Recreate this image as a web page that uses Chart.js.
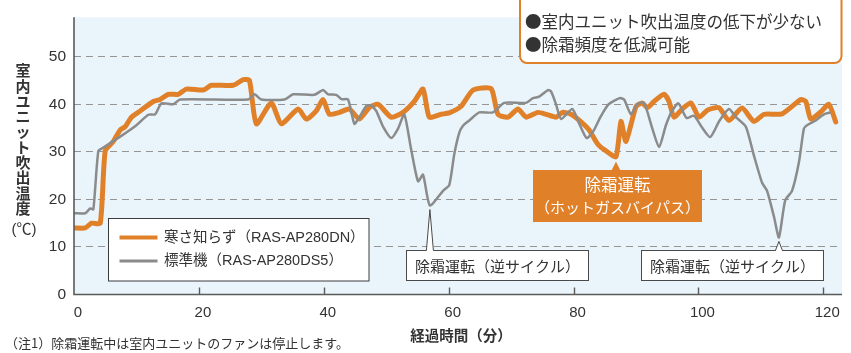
<!DOCTYPE html>
<html>
<head>
<meta charset="utf-8">
<script src="https://cdn.jsdelivr.net/npm/chart.js@4"></script>
<style>
  html, body { margin: 0; padding: 0; background: #ffffff; }
  #wrap { width: 851px; height: 353px; position: relative; }
</style>
</head>
<body>
<div id="wrap"><canvas id="c" width="851" height="353"></canvas></div>
<script>
// 寒さ知らず（RAS-AP280DN）: elapsed minutes / outlet temperature (℃)
const coldTimes = [0, 1.8, 2.8, 4.2, 5.0, 6.3, 7.4, 8.2, 9.2, 10.6, 12.7, 13.8, 15.1, 16.7, 18.0, 20.7, 22.0, 25.5, 27.1, 28.1,
  29.2, 31.6, 33.2, 35.9, 37.2, 38.8, 39.9, 40.9, 42.5, 44.1, 45.7, 47.3, 48.7, 50.8, 52.7, 54.5, 55.9, 56.9, 58.8, 60.1,
  62.0, 63.9, 66.8, 67.9, 69.5, 71.1, 72.4, 74.3, 75.6, 77.2, 78.2, 79.6, 81.2, 82.5, 83.9, 85.2, 86.8, 87.6, 88.4, 90.0,
  91.0, 91.8, 92.9, 94.5, 95.3, 96.1, 97.4, 98.8, 100.1, 101.5, 103.3, 104.9, 107.0, 108.9, 110.5, 113.4, 116.4, 117.2,
  118.0, 119.6, 120.9, 122.0];
const coldTemps = [14.0, 14.0, 15.0, 15.0, 30.2, 32.2, 34.6, 35.3, 37.3, 38.6, 40.6, 41.0, 42.1, 42.1, 43.2, 43.0, 44.0, 44.0, 45.2, 45.0,
  35.9, 40.3, 35.9, 39.0, 36.9, 38.6, 41.0, 37.9, 38.3, 39.0, 36.9, 39.3, 40.0, 37.3, 38.3, 40.6, 43.2, 37.3, 37.9, 38.2,
  39.6, 43.0, 43.3, 37.9, 37.3, 39.0, 37.3, 38.3, 37.9, 37.3, 38.3, 37.9, 36.3, 34.6, 31.6, 30.2, 29.0, 36.4, 32.2, 39.5,
  40.3, 39.3, 40.6, 42.1, 40.6, 37.3, 39.0, 40.3, 37.3, 38.8, 39.3, 36.6, 39.2, 36.4, 37.9, 38.0, 41.0, 40.6,
  36.9, 38.4, 40.0, 36.3];

// 標準機（RAS-AP280DS5）: elapsed minutes / outlet temperature (℃)
const stdTimes = [0, 1.8, 2.6, 3.1, 3.9, 4.7, 7.4, 10.0, 11.9, 13.0, 14.0, 15.9, 17.0, 27.9, 28.9, 30.0, 33.7, 35.1, 38.5, 39.9,
  40.7, 42.0, 42.8, 43.9, 44.9, 45.7, 46.8, 47.6, 48.4, 49.5, 50.8, 51.9, 52.9, 54.0, 55.1, 55.9, 57.0, 59.1, 60.1, 60.9,
  61.7, 62.3, 63.3, 64.9, 67.1, 68.9, 72.4, 73.5, 74.5, 75.9, 76.4, 77.2, 78.0, 79.8, 80.9, 82.1, 83.2, 84.3, 85.6, 87.4,
  88.1, 89.2, 90.2, 91.3, 92.6, 93.7, 94.8, 95.7, 96.8, 98.1, 99.3, 100.6, 101.9, 103.4, 104.9, 106.0, 107.6, 108.9,
  110.2, 111.0, 112.1, 112.9, 113.9, 115.0, 116.1, 116.9, 117.4, 118.8, 120.1, 121.2];
const stdTemps = [17.1, 17.1, 18.1, 17.9, 30.2, 30.9, 33.2, 35.6, 37.8, 37.9, 40.2, 40.0, 41.0, 41.0, 42.1, 41.0, 41.0, 42.1, 42.0, 43.0,
  42.1, 42.0, 41.1, 41.0, 35.9, 37.3, 39.6, 39.8, 38.6, 35.3, 32.9, 34.9, 37.9, 30.5, 23.8, 25.2, 18.7, 21.8, 23.0, 29.5,
  34.0, 35.5, 36.6, 38.3, 38.3, 40.3, 40.3, 41.3, 41.6, 43.0, 42.7, 40.0, 36.9, 39.0, 36.0, 32.9, 34.4, 37.3, 40.0, 41.3,
  41.0, 37.9, 40.0, 40.3, 35.0, 31.0, 35.6, 38.4, 40.2, 37.1, 37.6, 35.1, 33.1, 36.6, 39.0, 37.3, 35.3, 29.2,
  23.5, 21.8, 16.4, 12.0, 19.8, 21.8, 27.8, 34.9, 35.6, 36.6, 37.9, 38.3];

// Axis ticks
const xTickValues = [0, 20, 40, 60, 80, 100, 120];
const yTickValues = [0, 10, 20, 30, 40, 50];

// Texts
const coldLabel = '寒さ知らず（RAS-AP280DN）';
const stdLabel = '標準機（RAS-AP280DS5）';
const yTitleChars = ['室', '内', 'ユ', 'ニ', 'ッ', 'ト', '吹', '出', '温', '度'];
const yUnit = '(℃)';
const xTitle = '経過時間（分）';
const noteLines = ['●室内ユニット吹出温度の低下が少ない', '●除霜頻度を低減可能'];
const hotGasLines = ['除霜運転', '（ホットガスバイパス）'];
const reverseCycleLabel = '除霜運転（逆サイクル）';
const footnote = '（注1）除霜運転中は室内ユニットのファンは停止します。';

// Defrost events marked on the chart (minutes)
const reverseDefrostTimes = [57.0, 112.9];
const hotGasDefrostTime = 86.8;

const ORANGE = '#e0812a';
const GRAY = '#8b8b8b';
const TEXT = '#333333';
const AXIS = '#5a5a5a';
const PLOT_BG = '#e9f4fb';
const LATIN_JP = "'Liberation Sans', 'Noto Sans CJK JP', sans-serif";
const JP = "'Noto Sans CJK JP', sans-serif";

const toPoints = (xs, ys) => xs.map((x, i) => ({ x: x, y: ys[i] }));

function drawTail(ctx, tipX, tipY, baseY, half, fill, stroke) {
  ctx.beginPath();
  ctx.moveTo(tipX - half, baseY + 1.5);
  ctx.lineTo(tipX, tipY);
  ctx.lineTo(tipX + half, baseY + 1.5);
  ctx.closePath();
  ctx.fillStyle = fill;
  ctx.fill();
  if (stroke) {
    ctx.beginPath();
    ctx.moveTo(tipX - half, baseY + 0.5);
    ctx.lineTo(tipX, tipY);
    ctx.lineTo(tipX + half, baseY + 0.5);
    ctx.strokeStyle = stroke;
    ctx.lineWidth = 1;
    ctx.stroke();
  }
}

function grayCallout(ctx, l, t, r, b, tipX, tipY, text) {
  ctx.fillStyle = '#ffffff';
  ctx.fillRect(l, t, r - l, b - t);
  ctx.strokeStyle = '#4a4a4a';
  ctx.lineWidth = 1;
  ctx.strokeRect(l + 0.5, t + 0.5, r - l - 1, b - t - 1);
  drawTail(ctx, tipX, tipY, t, 3.5, '#ffffff', '#4a4a4a');
  ctx.fillStyle = TEXT;
  ctx.font = '15px ' + JP;
  ctx.textAlign = 'center';
  ctx.textBaseline = 'middle';
  ctx.fillText(text, (l + r) / 2, (t + b) / 2 + 0.5);
}

function roundRect(ctx, x, y, w, h, r) {
  ctx.beginPath();
  ctx.moveTo(x + r, y);
  ctx.lineTo(x + w - r, y);
  ctx.arcTo(x + w, y, x + w, y + r, r);
  ctx.lineTo(x + w, y + h - r);
  ctx.arcTo(x + w, y + h, x + w - r, y + h, r);
  ctx.lineTo(x + r, y + h);
  ctx.arcTo(x, y + h, x, y + h - r, r);
  ctx.lineTo(x, y + r);
  ctx.arcTo(x, y, x + r, y, r);
  ctx.closePath();
}

const decorations = {
  id: 'decorations',
  beforeDraw(chart) {
    const { ctx, chartArea: a } = chart;
    ctx.save();
    ctx.fillStyle = PLOT_BG;
    ctx.fillRect(a.left, a.top, a.right - a.left, a.bottom - a.top);
    ctx.restore();
  },
  afterDatasetsDraw(chart) {
    const { ctx, chartArea: a, scales: { x, y } } = chart;
    ctx.save();

    // axes
    ctx.strokeStyle = AXIS;
    ctx.lineWidth = 1.6;
    ctx.beginPath();
    ctx.moveTo(a.left, a.top);
    ctx.lineTo(a.left, a.bottom);
    ctx.lineTo(a.right, a.bottom);
    ctx.stroke();
    // inward tick marks on the time axis
    ctx.lineWidth = 1.4;
    xTickValues.forEach(v => {
      if (v === 0) return;
      const px = Math.round(x.getPixelForValue(v)) + 0.5;
      ctx.beginPath();
      ctx.moveTo(px, a.bottom);
      ctx.lineTo(px, a.bottom - 7);
      ctx.stroke();
    });

    // reverse-cycle defrost callouts on the standard unit
    const grayBoxes = [[406, 250, 589, 281], [641, 250, 824, 281]];
    reverseDefrostTimes.forEach((t, k) => {
      const i = stdTimes.indexOf(t);
      const tipX = x.getPixelForValue(stdTimes[i]);
      const tipY = y.getPixelForValue(stdTemps[i]) + 4;
      const [l, tp, r, b] = grayBoxes[k];
      grayCallout(ctx, l, tp, r, b, tipX, tipY, reverseCycleLabel);
    });

    // hot-gas bypass defrost callout on the cold-climate unit
    {
      const i = coldTimes.indexOf(hotGasDefrostTime);
      const tipX = x.getPixelForValue(coldTimes[i]);
      const tipY = y.getPixelForValue(coldTemps[i]) + 5;
      const l = 533, t = 170, r = 702, b = 222;
      ctx.fillStyle = ORANGE;
      ctx.fillRect(l, t, r - l, b - t);
      drawTail(ctx, tipX, tipY, t, 5, ORANGE, null);
      ctx.fillStyle = '#ffffff';
      ctx.textAlign = 'center';
      ctx.textBaseline = 'middle';
      ctx.font = '16.5px ' + JP;
      ctx.fillText(hotGasLines[0], (l + r) / 2, 185);
      ctx.font = '15px ' + JP;
      ctx.fillText(hotGasLines[1], (l + r) / 2, 207);
    }

    // legend
    {
      const l = 108.5, t = 218.5, r = 369, b = 281;
      ctx.fillStyle = '#ffffff';
      ctx.fillRect(l, t, r - l, b - t);
      ctx.strokeStyle = '#3c3c3c';
      ctx.lineWidth = 1;
      ctx.strokeRect(l, t, r - l, b - t);
      const rows = [[ORANGE, 4, coldLabel, 237.5], [GRAY, 3, stdLabel, 261]];
      rows.forEach(([col, w, label, cy]) => {
        ctx.strokeStyle = col;
        ctx.lineWidth = w;
        ctx.beginPath();
        ctx.moveTo(119.5, cy);
        ctx.lineTo(157.5, cy);
        ctx.stroke();
        ctx.fillStyle = TEXT;
        ctx.font = '14.5px ' + LATIN_JP;
        ctx.textAlign = 'left';
        ctx.textBaseline = 'middle';
        ctx.fillText(label, 164, cy);
      });
    }

    // summary note box
    {
      roundRect(ctx, 520, -12, 321.5, 75, 7);
      ctx.fillStyle = '#ffffff';
      ctx.fill();
      ctx.strokeStyle = ORANGE;
      ctx.lineWidth = 2;
      ctx.stroke();
      ctx.fillStyle = TEXT;
      ctx.font = '16.5px ' + JP;
      ctx.textAlign = 'left';
      ctx.textBaseline = 'middle';
      ctx.fillText(noteLines[0], 525, 21.5);
      ctx.fillText(noteLines[1], 525, 45);
    }

    ctx.restore();
  },
  afterDraw(chart) {
    const { ctx } = chart;
    ctx.save();
    ctx.fillStyle = TEXT;
    ctx.textAlign = 'center';
    ctx.textBaseline = 'middle';
    // vertical axis title
    ctx.font = 'bold 15px ' + JP;
    yTitleChars.forEach((ch, i) => ctx.fillText(ch, 23, 70.5 + i * 15.3));
    ctx.font = '15px ' + LATIN_JP;
    ctx.fillText(yUnit, 24, 230);
    // horizontal axis title
    ctx.font = 'bold 14.5px ' + JP;
    ctx.fillText(xTitle, 461, 335);
    // footnote
    ctx.font = '13px ' + JP;
    ctx.textAlign = 'left';
    ctx.fillText(footnote, 5, 343);
    ctx.restore();
  }
};

new Chart(document.getElementById('c'), {
  type: 'line',
  data: {
    datasets: [
      {
        label: stdLabel,
        data: toPoints(stdTimes, stdTemps),
        borderColor: GRAY,
        borderWidth: 2.5,
        pointRadius: 0,
        tension: 0.2,
        borderJoinStyle: 'round',
        order: 0
      },
      {
        label: coldLabel,
        data: toPoints(coldTimes, coldTemps),
        borderColor: ORANGE,
        borderWidth: 5,
        pointRadius: 0,
        tension: 0.2,
        borderJoinStyle: 'round',
        borderCapStyle: 'round',
        order: 1
      }
    ]
  },
  options: {
    responsive: false,
    animation: false,
    devicePixelRatio: 1,
    layout: { padding: { left: 0, top: 6, right: 9, bottom: 0 } },
    plugins: { legend: { display: false }, tooltip: { enabled: false } },
    scales: {
      x: {
        type: 'linear',
        min: 0,
        max: 123,
        afterBuildTicks: s => { s.ticks = xTickValues.map(v => ({ value: v })); },
        afterFit: s => { s.height = 58.5; },
        grid: { display: false, drawTicks: false },
        border: { display: false },
        ticks: {
          padding: 9,
          labelOffset: 4,
          autoSkip: false,
          maxRotation: 0,
          color: TEXT,
          font: { family: LATIN_JP, size: 15 }
        }
      },
      y: {
        min: 0,
        max: 58.3,
        afterBuildTicks: s => { s.ticks = yTickValues.map(v => ({ value: v })); },
        afterFit: s => { s.width = 74; },
        grid: {
          drawTicks: false,
          lineWidth: 1,
          color: c => (c.tick && c.tick.value === 0 ? 'rgba(0,0,0,0)' : '#959595')
        },
        border: { display: false, dash: [7, 5] },
        ticks: {
          padding: 8,
          color: TEXT,
          font: { family: LATIN_JP, size: 15.5 }
        }
      }
    }
  },
  plugins: [decorations]
});
</script>
</body>
</html>
